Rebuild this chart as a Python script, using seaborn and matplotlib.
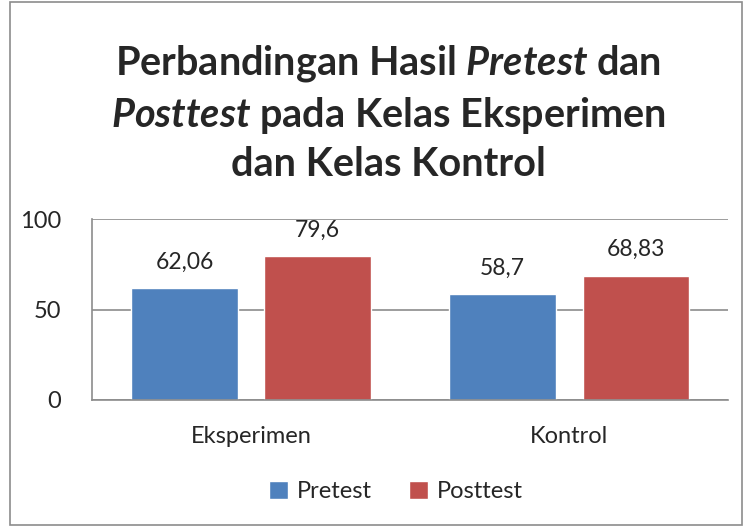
import pandas as pd
import seaborn as sns
import matplotlib.pyplot as plt
from matplotlib.patches import Rectangle

kelas = ['Eksperimen', 'Kontrol']
tes = ['Pretest', 'Posttest']
pretest = [62.06, 58.7]
posttest = [79.6, 68.83]
label_pre = ['62,06', '58,7']
label_post = ['79,6', '68,83']

df = pd.DataFrame({
    'kelas': kelas * 2,
    'tes': ['Pretest'] * 2 + ['Posttest'] * 2,
    'nilai': pretest + posttest,
})

sns.set_style('white')
plt.rcParams['font.family'] = ['Lato', 'DejaVu Sans']
plt.rcParams['mathtext.fontset'] = 'custom'
plt.rcParams['mathtext.rm'] = 'Lato:bold'
plt.rcParams['mathtext.it'] = 'Lato:bold:italic'

fig = plt.figure(figsize=(7.47, 5.27), dpi=100)
ax = fig.add_axes([0.123, 0.241, 0.852, 0.343])

sns.barplot(data=df, x='kelas', y='nilai', hue='tes', hue_order=tes,
            palette=['#4F81BD', '#C0504D'], width=0.836, gap=0.2,
            saturation=1, ax=ax, legend=True)

for cont, labs in zip(ax.containers, [label_pre, label_post]):
    ax.bar_label(cont, labels=labs, padding=11, fontsize=16.5)

ax.set_ylim(0, 100)
ax.set_yticks([0, 50, 100])
ax.set_xlim(-0.5, 1.5)
ax.set_xlabel('')
ax.set_ylabel('')
ax.tick_params(axis='both', length=0, labelsize=17)
ax.tick_params(axis='y', pad=22)
ax.tick_params(axis='x', pad=19)
ax.yaxis.grid(True, color='#8c8c8c', linewidth=1.2)
ax.set_axisbelow(True)
for s in ['top', 'right']:
    ax.spines[s].set_visible(False)
ax.spines['left'].set_color('#8c8c8c')
ax.spines['bottom'].set_color('#8c8c8c')
ax.spines['left'].set_linewidth(1.2)
ax.spines['bottom'].set_linewidth(1.2)

leg = ax.legend(loc='center', bbox_to_anchor=(0.53, 0.068), bbox_transform=fig.transFigure,
                ncol=2, frameon=False, fontsize=17, handlelength=0.8, handleheight=0.8,
                handletextpad=0.35, columnspacing=1.6)

fig.text(0.52, 0.785,
         'Perbandingan Hasil $\\mathit{Pretest}$ dan\n$\\mathit{Posttest}$ pada Kelas Eksperimen\ndan Kelas Kontrol',
         ha='center', va='center', fontsize=28.5, fontweight='bold', linespacing=1.34)

fig.patches.append(Rectangle((0.013, 0.003), 0.98, 0.994, transform=fig.transFigure,
                             fill=False, edgecolor='#8c8c8c', linewidth=1.2))

fig.savefig('out.png', dpi=100)
